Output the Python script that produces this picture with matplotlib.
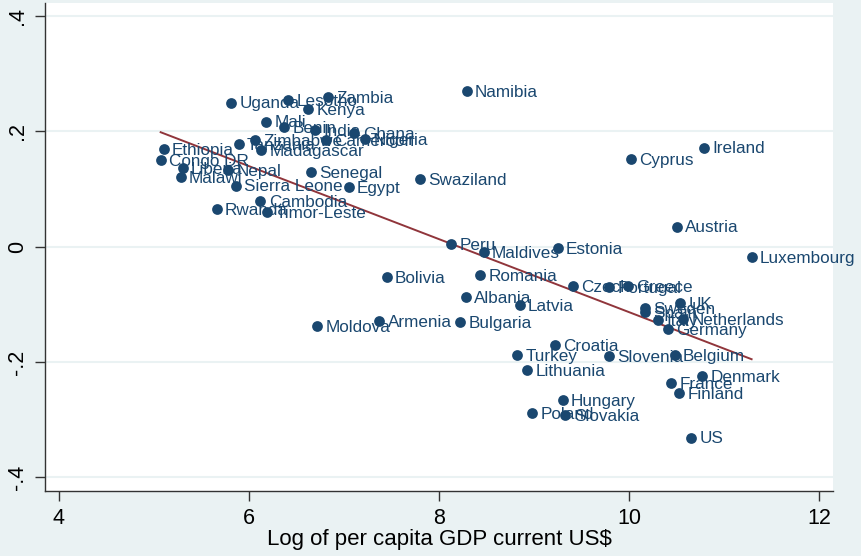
import matplotlib.pyplot as plt
import numpy as np

# log of per capita GDP (x) and residual-style outcome (y)
countries = ['Uganda', 'Lesotho', 'Zambia', 'Kenya', 'Namibia', 'Mali', 'Benin', 'India',
             'Ghana', 'Nigeria', 'Cameroon', 'Zimbabwe', 'Tanzania', 'Madagascar',
             'Ethiopia', 'Congo DR', 'Liberia', 'Malawi', 'Nepal', 'Senegal', 'Swaziland',
             'Sierra Leone', 'Egypt', 'Cambodia', 'Rwanda', 'Timor-Leste',
             'Ireland', 'Cyprus', 'Austria', 'Luxembourg',
             'Peru', 'Maldives', 'Estonia', 'Bolivia', 'Romania', 'Czech', 'Portugal', 'Greece',
             'Albania', 'Latvia', 'Moldova', 'Armenia', 'Bulgaria',
             'UK', 'Sweden', 'Spain', 'Italy', 'Netherlands', 'Germany',
             'Croatia', 'Turkey', 'Slovenia', 'Belgium', 'Lithuania', 'Denmark', 'France',
             'Finland', 'Hungary', 'Poland', 'Slovakia', 'US']
log_gdp = [5.81, 6.41, 6.83, 6.62, 8.29, 6.18, 6.37, 6.69,
           7.11, 7.22, 6.81, 6.06, 5.89, 6.13,
           5.10, 5.07, 5.30, 5.28, 5.78, 6.65, 7.80,
           5.86, 7.05, 6.12, 5.66, 6.19,
           10.79, 10.02, 10.50, 11.29,
           8.13, 8.47, 9.25, 7.45, 8.43, 9.41, 9.79, 9.99,
           8.28, 8.85, 6.72, 7.37, 8.22,
           10.54, 10.17, 10.17, 10.31, 10.57, 10.41,
           9.22, 8.82, 9.79, 10.48, 8.93, 10.77, 10.44,
           10.53, 9.30, 8.98, 9.33, 10.65]
resid = [0.250, 0.254, 0.260, 0.238, 0.270, 0.217, 0.207, 0.203,
         0.197, 0.186, 0.185, 0.185, 0.178, 0.168,
         0.169, 0.150, 0.137, 0.121, 0.133, 0.130, 0.117,
         0.106, 0.104, 0.079, 0.065, 0.060,
         0.172, 0.152, 0.035, -0.018,
         0.005, -0.010, -0.003, -0.053, -0.049, -0.069, -0.070, -0.068,
         -0.087, -0.101, -0.137, -0.129, -0.131,
         -0.098, -0.107, -0.114, -0.128, -0.126, -0.143,
         -0.170, -0.188, -0.189, -0.188, -0.214, -0.225, -0.236,
         -0.254, -0.266, -0.289, -0.292, -0.331]

navy = '#1a476f'
maroon = '#90353b'
bg = '#eaf2f3'

fig = plt.figure(figsize=(8.61, 5.56), dpi=100)
fig.patch.set_facecolor(bg)
ax = fig.add_axes([0.0523, 0.1169, 0.9152, 0.8777])
ax.set_facecolor('white')

x = np.array(log_gdp)
y = np.array(resid)
ax.scatter(x, y, s=60, color=navy, zorder=3, linewidths=0)
for name, xi, yi in zip(countries, x, y):
    ax.annotate(name, (xi, yi), xytext=(6, -1), textcoords='offset points',
                ha='left', va='center', fontsize=12.3, color=navy,
                family='Liberation Sans', annotation_clip=False, zorder=4)

# linear fit
b, a = np.polyfit(x, y, 1)
xs = np.array([x.min(), x.max()])
ax.plot(xs, a + b * xs, color=maroon, lw=1.4, zorder=2)

ax.set_xlim(3.853, 12.147)
ax.set_ylim(-0.4237, 0.4226)
ax.set_xticks([4, 6, 8, 10, 12])
ax.set_yticks([-0.4, -0.2, 0, 0.2, 0.4])
ax.set_yticklabels(['-.4', '-.2', '0', '.2', '.4'], rotation=90, va='center')
ax.grid(axis='y', color=bg, lw=1.5)
ax.set_axisbelow(True)
for side in ['top', 'right']:
    ax.spines[side].set_visible(False)
for side in ['left', 'bottom']:
    ax.spines[side].set_color('#333333')
    ax.spines[side].set_linewidth(1.0)
ax.tick_params(length=7, width=1, color='#333333', labelsize=15.5, pad=5)
for lab in ax.get_xticklabels() + ax.get_yticklabels():
    lab.set_family('Liberation Sans')
ax.set_xlabel('Log of per capita GDP current US$', fontsize=16, family='Liberation Sans', labelpad=0)

fig.savefig('out.png', dpi=100, facecolor=bg)
